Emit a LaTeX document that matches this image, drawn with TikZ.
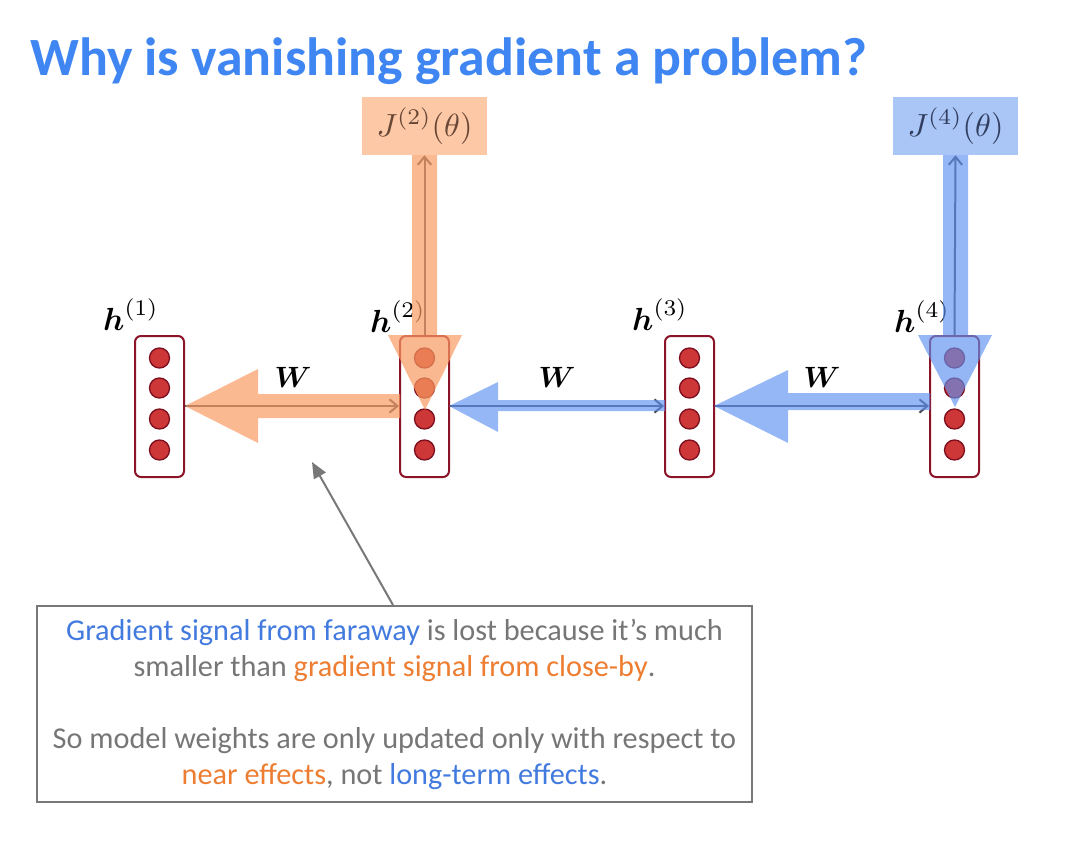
\documentclass[tikz,border=0pt]{standalone}
\usepackage{amsmath}
\usepackage{graphicx}
\usepackage{fontspec}
\newfontfamily\carlito{Carlito}
\usetikzlibrary{arrows.meta}
\definecolor{titleblue}{RGB}{63,134,242}
\definecolor{txtgray}{RGB}{118,118,118}
\definecolor{txtblue}{RGB}{66,122,222}
\definecolor{txtorange}{RGB}{237,125,49}
\definecolor{hborder}{RGB}{140,20,40}
\definecolor{cfill}{RGB}{205,55,55}
\definecolor{cborder}{RGB}{125,15,30}
\definecolor{ovorange}{RGB}{249,155,98}
\definecolor{ovblue}{RGB}{95,145,240}
\definecolor{jorange}{RGB}{253,200,165}
\definecolor{jblue}{RGB}{170,198,246}
\definecolor{thin}{RGB}{70,70,85}
\definecolor{callgray}{RGB}{120,120,120}
\tikzset{
  hbox/.style={draw=hborder, line width=1.5pt, fill=white, rounded corners=4.5pt,
    minimum width=36.75pt, minimum height=105.75pt, inner sep=0pt},
  unit/.style={fill=cfill, draw=cborder, line width=1pt},
  hlabel/.style={inner sep=0pt, anchor=base},
  jbox/.style={minimum width=93.75pt, minimum height=43.5pt, inner sep=0pt},
  thinarrow/.style={draw=thin, line width=1.5pt, -{Straight Barb[length=6pt,width=10pt]}},
  ovO/.style={fill=ovorange, fill opacity=0.7},
  ovB/.style={fill=ovblue, fill opacity=0.66},
}
\newcommand{\hlab}[1]{\scalebox{2.4}{$\boldsymbol{h}^{(#1)}$}}
\newcommand{\wlab}{\scalebox{2.2}{$\boldsymbol{W}$}}
\newcommand{\jlab}[1]{\scalebox{2.4}{$J^{(#1)}(\theta)$}}
\begin{document}
\begin{tikzpicture}[x=0.75pt,y=-0.75pt]
\useasboundingbox (0,0) rectangle (1092,842);
% title
\node[anchor=base west, inner sep=0pt, text=titleblue, font=\carlito\bfseries\fontsize{40.4}{44}\selectfont] (title) at (30,76) {Why is vanishing gradient a problem?};
% J boxes
\node[jbox, fill=jorange, text={rgb,255:red,105;green,72;blue,55}] (J2) at (424.5,126) {\jlab{2}};
\node[jbox, fill=jblue, text={rgb,255:red,50;green,62;blue,95}] (J4) at (955.5,126) {\jlab{4}};
% hidden state boxes
\foreach \i/\x in {1/159.5,2/424.5,3/689.5,4/954.5}{
  \node[hbox] (h\i) at (\x,406.5) {};
  \foreach \y in {358,388,419,450}{
    \draw[unit] (\x,\y) circle[radius=10];
  }
}
% labels
\node[hlabel] (lh1) at (131,330) {\hlab{1}};
\node[hlabel] (lh2) at (398,332) {\hlab{2}};
\node[hlabel] (lh3) at (660,330) {\hlab{3}};
\node[hlabel] (lh4) at (922,332) {\hlab{4}};
\node[hlabel] (w1) at (293,387) {\wlab};
\node[hlabel] (w2) at (557,387) {\wlab};
\node[hlabel] (w3) at (822,387) {\wlab};
% thin forward arrows
\draw[thinarrow] (h1.east |- 0,406) -- (h2.west |- 0,406);
\draw[thinarrow] (h2.east |- 0,406) -- (h3.west |- 0,406);
\draw[thinarrow] (h3.east |- 0,406) -- (h4.west |- 0,406);
\draw[thinarrow] (h2.north) -- (J2.south);
\draw[thinarrow] (h4.north) -- (J4.south);
% translucent gradient arrows
\fill[ovO] (400,394) -- (258,394) -- (258,369) -- (185,406) -- (258,443) -- (258,418) -- (400,418) -- cycle;
\fill[ovO] (412,155) -- (437,155) -- (437,335) -- (462,335) -- (425,410) -- (388,335) -- (412,335) -- cycle;
\fill[ovB] (665,400) -- (498,400) -- (498,382) -- (449,406) -- (498,432) -- (498,411) -- (665,411) -- cycle;
\fill[ovB] (930,393) -- (788,393) -- (788,370) -- (714,406) -- (788,443) -- (788,410) -- (930,410) -- cycle;
\fill[ovB] (943,155) -- (968,155) -- (968,335) -- (992,335) -- (955,407) -- (918,335) -- (943,335) -- cycle;
% note box
\node[draw=callgray, line width=1.5pt, minimum width=536.25pt, minimum height=147pt, inner sep=0pt,
  align=center, text=txtgray, font=\carlito\fontsize{22.7}{27}\selectfont] (note) at (394.5,704)
  {\textcolor{txtblue}{Gradient signal from faraway} is lost because it’s much\\
   smaller than \textcolor{txtorange}{gradient signal from close-by}.\\[27pt]
   So model weights are only updated only with respect to\\
   \textcolor{txtorange}{near effects}, not \textcolor{txtblue}{long-term effects}.};
\coordinate (tip) at (312,462);
\draw[callgray, line width=1.5pt, -{Triangle[length=12pt,width=10pt]}] (note.north -| 393,0) -- (tip);
\end{tikzpicture}
\end{document}
